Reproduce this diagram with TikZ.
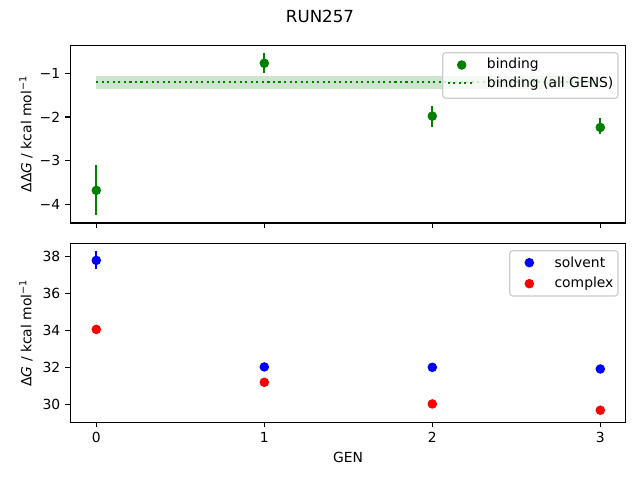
\documentclass[tikz,border=0pt]{standalone}
\usepackage{fontspec}
\setmainfont{DejaVu Sans}
\begin{document}
\begin{tikzpicture}[x=0.72pt,y=-0.72pt,
  declare function={tx(\g)=96.3+168*\g; ty(\v)=73.3-43.67*(\v+1); by(\v)=404.5-18.5*(\v-30);},
  axisline/.style={line width=0.8pt,black},
  tick/.style={line width=0.8pt,black},
  ticklab/.style={font=\fontsize{10}{12}\selectfont,inner sep=0pt},
  dot/.style={circle,inner sep=0pt,minimum size=6.9pt,fill=#1},
  ebar/.style={line width=1.5pt,draw=#1},
  legbox/.style={draw=black!20,line width=0.8pt,fill=white,fill opacity=0.8,rounded corners=2.2pt},
  legtext/.style={font=\fontsize{10}{12}\selectfont,inner sep=0pt,anchor=west}]
\definecolor{mplgreen}{rgb}{0,0.5,0}
\useasboundingbox (0,0) rectangle (640,480);
\fill[white] (0,0) rectangle (640,480);
% title
\node[font=\fontsize{12}{14}\selectfont,inner sep=0pt] (title) at (320,16) {RUN257};
% ================= TOP AXES =================
\fill[mplgreen,opacity=0.2] ({tx(0)},{ty(-1.07)}) rectangle ({tx(3)},{ty(-1.35)});
\draw[mplgreen,line width=1.5pt,dash pattern=on 1.5pt off 2.475pt] ({tx(0)},{ty(-1.19)}) coordinate (la) -- ({tx(3)},{ty(-1.19)}) coordinate (lb);
% error bars
\draw[ebar=mplgreen] ({tx(0)},{ty(-3.11)}) -- ({tx(0)},{ty(-4.24)});
\draw[ebar=mplgreen] ({tx(1)},{ty(-0.54)}) -- ({tx(1)},{ty(-0.99)});
\draw[ebar=mplgreen] ({tx(2)},{ty(-1.76)}) -- ({tx(2)},{ty(-2.22)});
\draw[ebar=mplgreen] ({tx(3)},{ty(-2.03)}) -- ({tx(3)},{ty(-2.40)});
\node[dot=mplgreen] (b0) at ({tx(0)},{ty(-3.68)}) {};
\node[dot=mplgreen] (b1) at ({tx(1)},{ty(-0.77)}) {};
\node[dot=mplgreen] (b2) at ({tx(2)},{ty(-1.98)}) {};
\node[dot=mplgreen] (b3) at ({tx(3)},{ty(-2.24)}) {};
\draw[axisline] (70.3,45.3) rectangle (625.7,223);
\foreach \v in {-1,-2,-3,-4}{
  \draw[tick] (70.3,{ty(\v)}) -- ++(-4.86,0);
  \node[ticklab,anchor=east] (ty\v) at (60.5,{ty(\v)}) {−\the\numexpr-\v\relax};
}
\foreach \g in {0,1,2,3}{
  \draw[tick] ({tx(\g)},223) -- ++(0,4.86);
}
\node[rotate=90,font=\fontsize{10}{12}\selectfont,inner sep=0pt] (ylab1) at (26,134) {ΔΔ\textit{G} / kcal mol\textsuperscript{−1}};
% legend top
\draw[legbox] (442.7,52.7) rectangle (618,98.3);
\node[dot=mplgreen] (lg1) at (461.7,65) {};
\draw[mplgreen,line width=1.5pt,dash pattern=on 1.5pt off 2.475pt] (447.7,83.3) coordinate (lc) -- (475.3,83.3) coordinate (ld);
\node[legtext] (lt1) at (486.7,65) {binding};
\node[legtext] (lt2) at (486.7,83.3) {binding (all GENS)};
% ================= BOTTOM AXES =================
\draw[ebar=blue] ({tx(0)},{by(38.3)}) -- ({tx(0)},{by(37.3)});
\draw[ebar=red] ({tx(0)},{by(34.22)}) -- ({tx(0)},{by(33.9)});
\node[dot=blue] (s0) at ({tx(0)},{by(37.79)}) {};
\node[dot=blue] (s1) at ({tx(1)},{by(32.03)}) {};
\node[dot=blue] (s2) at ({tx(2)},{by(32.01)}) {};
\node[dot=blue] (s3) at ({tx(3)},{by(31.92)}) {};
\node[dot=red] (c0) at ({tx(0)},{by(34.06)}) {};
\node[dot=red] (c1) at ({tx(1)},{by(31.20)}) {};
\node[dot=red] (c2) at ({tx(2)},{by(30.03)}) {};
\node[dot=red] (c3) at ({tx(3)},{by(29.69)}) {};
\draw[axisline] (70.3,243.7) rectangle (625.7,422.3);
\foreach \v in {30,32,34,36,38}{
  \draw[tick] (70.3,{by(\v)}) -- ++(-4.86,0);
  \node[ticklab,anchor=east] (by\v) at (60.5,{by(\v)}) {\v};
}
\foreach \g in {0,1,2,3}{
  \draw[tick] ({tx(\g)},422.3) -- ++(0,4.86);
  \node[ticklab,anchor=north] (tx\g) at ({tx(\g)},432.2) {\g};
}
\node[rotate=90,font=\fontsize{10}{12}\selectfont,inner sep=0pt] (ylab2) at (26,333) {Δ\textit{G} / kcal mol\textsuperscript{−1}};
\node[font=\fontsize{10}{12}\selectfont,inner sep=0pt] (xlab) at (348,457.5) {GEN};
% legend bottom
\draw[legbox] (509.7,250.7) rectangle (618,296);
\node[dot=blue] (lb1) at (529.3,262.7) {};
\node[dot=red] (lb2) at (529.3,283.7) {};
\node[legtext] (lt3) at (554.3,262.7) {solvent};
\node[legtext] (lt4) at (554.3,283.7) {complex};
\end{tikzpicture}
\end{document}
